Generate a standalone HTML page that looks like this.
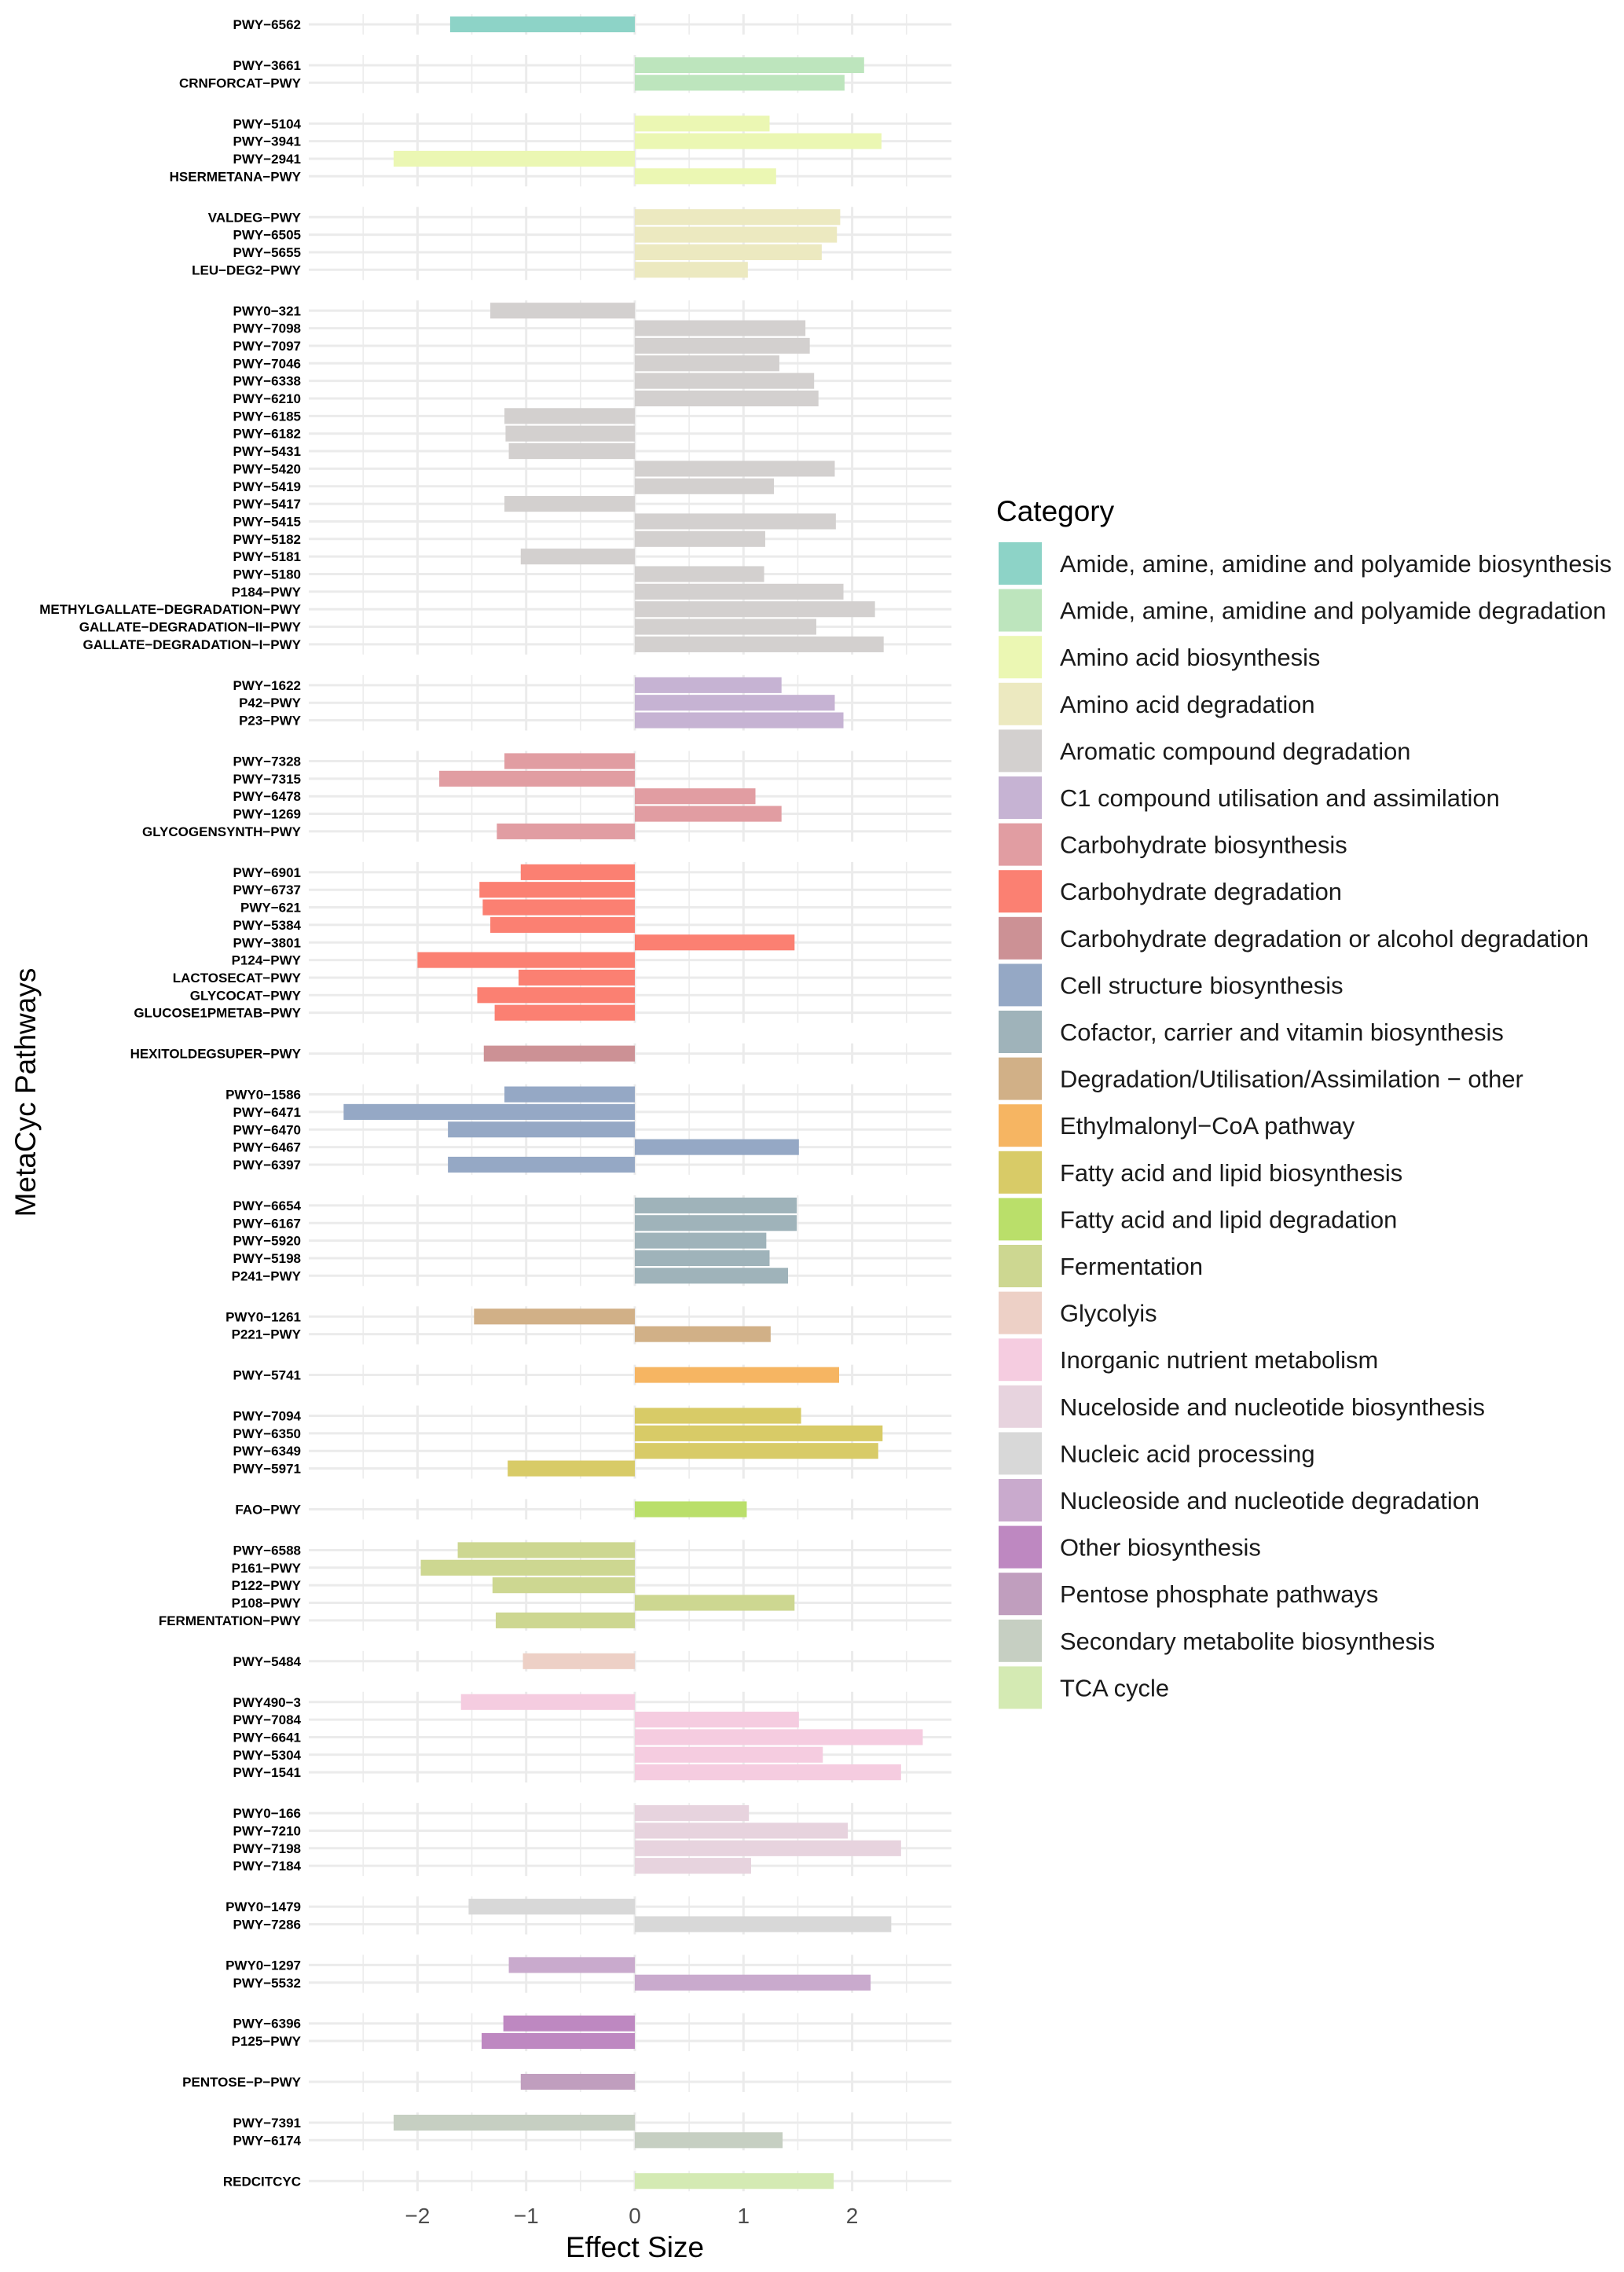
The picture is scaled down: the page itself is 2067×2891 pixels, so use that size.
<!DOCTYPE html>
<html><head><meta charset="utf-8"><style>
html,body{margin:0;padding:0;background:#fff;}
svg{display:block;font-family:"Liberation Sans",Arial,sans-serif;}
</style></head><body>
<svg id="chart" width="2067" height="2891" viewBox="0 0 2067 2891" xmlns="http://www.w3.org/2000/svg">
<rect width="2067" height="2891" fill="#fff"/>
<g id="grid"></g>
<g id="bars"></g>
<g id="ylabels"></g>
<g id="xticks"></g>
<text x="808" y="2872" font-size="37" text-anchor="middle" fill="#000">Effect Size</text>
<text transform="translate(45,1390) rotate(-90)" font-size="37" text-anchor="middle" fill="#000">MetaCyc Pathways</text>
<g id="legend">
<text x="1268" y="663" font-size="37" fill="#000">Category</text>
</g>
</svg>
<script>
const categories = ["Amide, amine, amidine and polyamide biosynthesis","Amide, amine, amidine and polyamide degradation","Amino acid biosynthesis","Amino acid degradation","Aromatic compound degradation","C1 compound utilisation and assimilation","Carbohydrate biosynthesis","Carbohydrate degradation","Carbohydrate degradation or alcohol degradation","Cell structure biosynthesis","Cofactor, carrier and vitamin biosynthesis","Degradation/Utilisation/Assimilation \u2212 other","Ethylmalonyl\u2212CoA pathway","Fatty acid and lipid biosynthesis","Fatty acid and lipid degradation","Fermentation","Glycolyis","Inorganic nutrient metabolism","Nuceloside and nucleotide biosynthesis","Nucleic acid processing","Nucleoside and nucleotide degradation","Other biosynthesis","Pentose phosphate pathways","Secondary metabolite biosynthesis","TCA cycle"];
const colors = ["#8DD3C7","#BDE5BD","#EBF7B3","#ECE9C0","#D3D0CF","#C6B3D3","#E19DA2","#FB8072","#CC9195","#95A8C5","#9FB3BA","#D1B087","#F6B562","#D8CB67","#BADF6A","#CDD791","#EDD0C6","#F5CCE0","#E7D3DE","#D8D8D8","#C9AACD","#BE88C1","#C09EBE","#C6CFC2","#D4EAB3"];
const pathways = ["PWY-6562","PWY-3661","CRNFORCAT-PWY","PWY-5104","PWY-3941","PWY-2941","HSERMETANA-PWY","VALDEG-PWY","PWY-6505","PWY-5655","LEU-DEG2-PWY","PWY0-321","PWY-7098","PWY-7097","PWY-7046","PWY-6338","PWY-6210","PWY-6185","PWY-6182","PWY-5431","PWY-5420","PWY-5419","PWY-5417","PWY-5415","PWY-5182","PWY-5181","PWY-5180","P184-PWY","METHYLGALLATE-DEGRADATION-PWY","GALLATE-DEGRADATION-II-PWY","GALLATE-DEGRADATION-I-PWY","PWY-1622","P42-PWY","P23-PWY","PWY-7328","PWY-7315","PWY-6478","PWY-1269","GLYCOGENSYNTH-PWY","PWY-6901","PWY-6737","PWY-621","PWY-5384","PWY-3801","P124-PWY","LACTOSECAT-PWY","GLYCOCAT-PWY","GLUCOSE1PMETAB-PWY","HEXITOLDEGSUPER-PWY","PWY0-1586","PWY-6471","PWY-6470","PWY-6467","PWY-6397","PWY-6654","PWY-6167","PWY-5920","PWY-5198","P241-PWY","PWY0-1261","P221-PWY","PWY-5741","PWY-7094","PWY-6350","PWY-6349","PWY-5971","FAO-PWY","PWY-6588","P161-PWY","P122-PWY","P108-PWY","FERMENTATION-PWY","PWY-5484","PWY490-3","PWY-7084","PWY-6641","PWY-5304","PWY-1541","PWY0-166","PWY-7210","PWY-7198","PWY-7184","PWY0-1479","PWY-7286","PWY0-1297","PWY-5532","PWY-6396","P125-PWY","PENTOSE-P-PWY","PWY-7391","PWY-6174","REDCITCYC"];
const effects = [-1.70,2.11,1.93,1.24,2.27,-2.22,1.30,1.89,1.86,1.72,1.04,-1.33,1.57,1.61,1.33,1.65,1.69,-1.20,-1.19,-1.16,1.84,1.28,-1.20,1.85,1.20,-1.05,1.19,1.92,2.21,1.67,2.29,1.35,1.84,1.92,-1.20,-1.80,1.11,1.35,-1.27,-1.05,-1.43,-1.40,-1.33,1.47,-2.00,-1.07,-1.45,-1.29,-1.39,-1.20,-2.68,-1.72,1.51,-1.72,1.49,1.49,1.21,1.24,1.41,-1.48,1.25,1.88,1.53,2.28,2.24,-1.17,1.03,-1.63,-1.97,-1.31,1.47,-1.28,-1.03,-1.60,1.51,2.65,1.73,2.45,1.05,1.96,2.45,1.07,-1.53,2.36,-1.16,2.17,-1.21,-1.41,-1.05,-2.22,1.36,1.83];
const groupSizes = [1,2,4,4,20,3,5,9,1,5,5,2,1,4,1,5,1,5,4,2,2,2,1,2,1];
const majorTicks = [-2,-1,0,1,2];
const minorTicks = [-2.5,-1.5,-0.5,0.5,1.5,2.5];

const NS = "http://www.w3.org/2000/svg";
const X0 = 808, UNIT = 138.3, PL = 393, PR = 1211;
const STEP = 22.35, PAD = 1.8, GAP = 26, FIRST = 31;
function xs(v){ return X0 + v*UNIT; }
function mk(tag, attrs, parent){ const e=document.createElementNS(NS,tag); for(const k in attrs) e.setAttribute(k,attrs[k]); parent.appendChild(e); return e; }
const grid=document.getElementById('grid'), bars=document.getElementById('bars'), yl=document.getElementById('ylabels'), xt=document.getElementById('xticks'), lg=document.getElementById('legend');

let row=0;
groupSizes.forEach((n,g)=>{
  const firstC = FIRST + (row - g)*STEP + g*(STEP+2*PAD+GAP);
  const top = firstC - STEP/2 - PAD;
  const bot = firstC + (n-1)*STEP + STEP/2 + PAD;
  minorTicks.forEach(t=>{
    const l=mk('line',{x1:xs(t),x2:xs(t),y1:top,y2:bot,stroke:'#ececec','stroke-width':1.6},grid);
    
    
  });
  majorTicks.forEach(t=>{
    const l=mk('line',{x1:xs(t),x2:xs(t),y1:top,y2:bot,stroke:'#ebebeb','stroke-width':3},grid);
    
    
  });
  for(let i=0;i<n;i++){
    const idx=row+i;
    const cy = firstC + i*STEP;
    const h=mk('line',{x1:PL,x2:PR,y1:cy,y2:cy,stroke:'#ebebeb','stroke-width':3},grid);
    
    
    const v=effects[idx];
    const bw=STEP*0.9;
    const r=mk('rect',{x:Math.min(xs(0),xs(v)),y:cy-bw/2,width:Math.abs(xs(v)-xs(0)),height:bw,fill:colors[g]},bars);
    
    
    const t=mk('text',{x:383,y:cy+6,'font-size':17,'font-weight':'bold','text-anchor':'end',fill:'#000'},yl);
    t.textContent=pathways[idx].replace(/-/g,'\u2212');
    
    
  }
  row+=n;
});
majorTicks.forEach(t=>{
  const e=mk('text',{x:xs(t),y:2829,'font-size':28,'text-anchor':'middle',fill:'#4d4d4d'},xt);
  e.textContent=(t<0?'\u2212':'')+Math.abs(t);
  
  
});
categories.forEach((c,i)=>{
  const y=690+i*59.6;
  const r=mk('rect',{x:1271,y:y,width:55,height:54,fill:colors[i]},lg);
  
  
  const t=mk('text',{x:1349,y:y+38,'font-size':30.9,fill:'#1a1a1a'},lg);
  t.textContent=c;
  
  
});
</script>
</body></html>
